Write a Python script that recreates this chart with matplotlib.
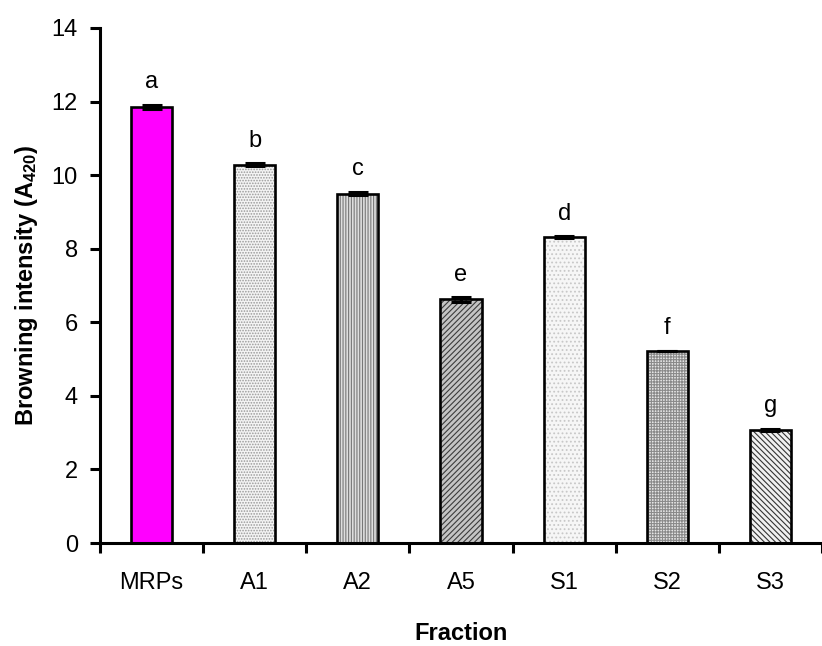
import numpy as np
import matplotlib
matplotlib.use("Agg")
import matplotlib.pyplot as plt

plt.rcParams['font.family'] = ['Liberation Sans', 'DejaVu Sans']
plt.rcParams['mathtext.fontset'] = 'custom'
plt.rcParams['mathtext.rm'] = 'Liberation Sans:bold'
plt.rcParams['mathtext.bf'] = 'Liberation Sans:bold'
plt.rcParams['mathtext.default'] = 'bf'
plt.rcParams['hatch.linewidth'] = 0.8

# browning intensity per fraction
fractions = ['MRPs', 'A1', 'A2', 'A5', 'S1', 'S2', 'S3']
intensity = [11.85, 10.28, 9.50, 6.62, 8.31, 5.22, 3.07]
sd = [0.06, 0.04, 0.04, 0.06, 0.03, 0.01, 0.03]
letters = ['a', 'b', 'c', 'e', 'd', 'f', 'g']

# fill styles: (face colour, hatch, hatch colour)
fills = [
    ('#ff00ff', None, '#ff00ff'),
    ('#f4f4f4', '......', '#9a9a9a'),
    ('#dedede', '||||||', '#777777'),
    ('#c4c4c4', '//////', '#3c3c3c'),
    ('#f6f6f6', '....', '#c8c8c8'),
    ('#e6e6e6', '++++++', '#8a8a8a'),
    ('#f0f0f0', '\\\\\\\\\\\\', '#333333'),
]

fs = 17

fig = plt.figure(figsize=(8.22, 6.46), dpi=100)
ax = fig.add_axes([100 / 822, 103 / 646, 1 - 100 / 822, 515 / 646])

x = np.arange(len(fractions)) + 0.5
w = 0.40
for xi, v, (fc, h, hc) in zip(x, intensity, fills):
    ax.bar(xi, v, w, color=fc, edgecolor=hc, hatch=h, linewidth=0, zorder=2)
    ax.bar(xi, v, w, fill=False, edgecolor='black', linewidth=1.9, zorder=3)

ax.errorbar(x, intensity, yerr=sd, fmt='none', ecolor='black',
            elinewidth=2.2, capsize=7, capthick=2.2, zorder=4)

for xi, v, e, s in zip(x, intensity, sd, letters):
    ax.annotate(s, (xi, v + e), xytext=(0, 12), textcoords='offset points',
                ha='center', va='baseline', fontsize=fs)

ax.set_xlim(0, (822 - 100) / 104)
ax.set_ylim(0, 14)
ax.set_yticks(np.arange(0, 15, 2))
ax.set_xticks(np.arange(0, 8))
ax.set_xticklabels([])
ax.set_xticks(x, minor=True)
ax.set_xticklabels(fractions, minor=True, fontsize=fs)
ax.tick_params(axis='x', which='minor', length=0, pad=21)
ax.tick_params(axis='x', which='major', length=7.5, width=2.2, direction='out')
ax.tick_params(axis='y', length=7, width=2.2, direction='out', pad=9, labelsize=fs)

for side in ['top', 'right']:
    ax.spines[side].set_visible(False)
for side in ['left', 'bottom']:
    ax.spines[side].set_linewidth(2.2)

ax.set_xlabel('Fraction', fontsize=fs, fontweight='bold', labelpad=20)
ax.set_ylabel('Browning intensity (A$_{420}$)', fontsize=fs, fontweight='bold', labelpad=8)

fig.savefig('out.png', dpi=100)
